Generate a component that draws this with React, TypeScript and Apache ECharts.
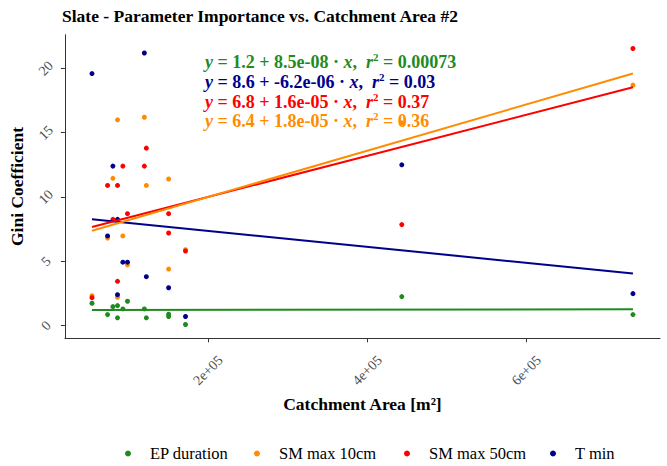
import { useEffect, useRef } from "react";
import * as echarts from "echarts";

// Catchment areas [m²] and the Gini coefficient of each parameter per catchment
const catchmentArea = [54200, 73800, 80500, 86300, 86300, 93000, 98800, 120000, 122500, 150500, 150500, 171700, 443400, 733800];
const epDuration = [1.73, 0.85, 1.47, 1.55, 0.6, 1.29, 1.89, 1.29, 0.6, 0.88, 0.7, 0.08, 2.25, 0.85];
const smMax10 = [2.32, 6.8, 11.45, 16.0, 2.2, 6.97, 4.72, 16.2, 10.9, 11.4, 4.39, 5.9, 15.77, 18.7];
const smMax50 = [2.17, 10.9, 8.26, 10.9, 3.44, 12.4, 8.7, 12.4, 13.8, 8.7, 7.2, 5.8, 7.85, 21.55];
const tMin = [19.6, 6.97, 12.4, 8.26, 2.4, 4.93, 4.93, 21.2, 3.8, 2.94, null, 0.7, 12.5, 2.48];

const seriesNames = ["EP duration", "SM max 10cm", "SM max 50cm", "T min"];
const seriesColors = ["#1f8b1f", "#ff8c00", "#ff0000", "#00008b"];
const seriesValues = [epDuration, smMax10, smMax50, tMin];

// Linear fits (y = a + b·x) in the order they are listed on the plot
const fitSeries = ["EP duration", "T min", "SM max 50cm", "SM max 10cm"];
const fitIntercept = [1.2, 8.6, 6.8, 6.4];
const fitSlope = [8.5e-8, -6.2e-6, 1.6e-5, 1.8e-5];
const fitR2 = ["0.00073", "0.03", "0.37", "0.36"];

const xTickValues = [200000, 400000, 600000];
const yTickValues = [0, 5, 10, 15, 20];

const SERIF = '"Liberation Serif", "Times New Roman", serif';

// R-style scientific notation, e.g. 2e+05, -6.2e-06
function sci(v: number, digits?: number): string {
  const s = digits === undefined ? v.toExponential() : v.toExponential(digits);
  const [m, e] = s.split("e");
  const sign = e[0] === "-" ? "-" : "+";
  const exp = e.replace(/^[+-]/, "").padStart(2, "0");
  return `${m}e${sign}${exp}`;
}

export default function App() {
  const ref = useRef<HTMLDivElement>(null);

  useEffect(() => {
    if (!ref.current) return;
    const chart = echarts.init(ref.current, null, { renderer: "svg" });

    const xMinD = Math.min(...catchmentArea);
    const xMaxD = Math.max(...catchmentArea);
    const allY = seriesValues.flat().filter((v): v is number => v !== null);
    const yMinD = Math.min(...allY);
    const yMaxD = Math.max(...allY);
    const xPad = (xMaxD - xMinD) * 0.05;
    const yPad = (yMaxD - yMinD) * 0.05;

    const scatter = seriesNames.map((name, k) => ({
      name,
      type: "scatter",
      symbol: "circle",
      symbolSize: 5,
      itemStyle: { color: seriesColors[k], opacity: 1 },
      z: 2 + k * 0.01,
      data: catchmentArea
        .map((x, i) => [x, seriesValues[k][i]])
        .filter((p) => p[1] !== null),
    }));

    const fits = fitSeries.map((name, k) => {
      const color = seriesColors[seriesNames.indexOf(name)];
      return {
        name: `${name} fit`,
        type: "line",
        symbol: "none",
        silent: true,
        z: 3,
        lineStyle: { color, width: 2 },
        data: [xMinD, xMaxD].map((x) => [x, fitIntercept[k] + fitSlope[k] * x]),
      };
    });

    const eqTop = [51, 71, 91, 110];
    const equations = fitSeries.map((name, k) => {
      const color = seriesColors[seriesNames.indexOf(name)];
      const base = { fill: color, fontFamily: SERIF, fontSize: 18, fontWeight: "bold", lineHeight: 20, verticalAlign: "bottom" };
      const text =
        `{i|y}{b| = ${fitIntercept[k]} + ${sci(fitSlope[k], 1)} · }{i|x}{b|,  }` +
        `{i|r}{s|2}{b| = ${fitR2[k]}}`;
      return {
        type: "text",
        x: 205,
        y: eqTop[k],
        z: 10,
        style: {
          text,
          fill: color,
          verticalAlign: "top",
          align: "left",
          rich: {
            b: base,
            i: { ...base, fontStyle: "italic" },
            s: { ...base, fontSize: 11, lineHeight: 11, padding: [0, 0, 13, 0], verticalAlign: "top" },
          },
        },
      };
    });

    const legendLeft = [125, 254, 404, 550];
    const legends = seriesNames.map((name, k) => ({
      data: [name],
      left: legendLeft[k],
      top: 445,
      padding: 0,
      icon: "circle",
      itemWidth: 6,
      itemHeight: 6,
      selectedMode: false,
      textStyle: { fontFamily: SERIF, fontSize: 16.5, color: "#000", padding: [0, 0, 0, 14] },
    }));

    chart.setOption({
      animation: false,
      backgroundColor: "#fff",
      title: {
        text: "Slate - Parameter Importance vs. Catchment Area #2",
        left: 62,
        top: 7,
        padding: 0,
        textStyle: { fontFamily: SERIF, fontSize: 17.5, fontWeight: "bold", color: "#000" },
      },
      legend: legends,
      grid: { left: 64, right: 7, top: 34.7, bottom: 127.7, containLabel: false },
      xAxis: {
        type: "value",
        min: xMinD - xPad,
        max: xMaxD + xPad,
        name: "Catchment Area [m²]",
        nameLocation: "middle",
        nameGap: 56,
        nameTextStyle: { fontFamily: SERIF, fontSize: 17.5, fontWeight: "bold", color: "#000" },
        axisLine: { show: true, onZero: false, lineStyle: { color: "#333", width: 1 } },
        axisTick: { show: true, inside: false, length: 4, customValues: xTickValues, lineStyle: { color: "#333" } },
        axisLabel: {
          customValues: xTickValues,
          rotate: 45,
          align: "center",
          verticalAlign: "middle",
          margin: 32,
          fontFamily: SERIF,
          fontSize: 14,
          color: "#4d4d4d",
          formatter: (v: number) => sci(v),
        },
        splitLine: { show: false },
      },
      yAxis: {
        type: "value",
        min: yMinD - yPad,
        max: yMaxD + yPad,
        name: "Gini Coefficient",
        nameLocation: "middle",
        nameGap: 37,
        nameTextStyle: { fontFamily: SERIF, fontSize: 17.5, fontWeight: "bold", color: "#000" },
        axisLine: { show: true, onZero: false, lineStyle: { color: "#333", width: 1 } },
        axisTick: { show: true, inside: false, length: 4, customValues: yTickValues, lineStyle: { color: "#333" } },
        axisLabel: {
          customValues: yTickValues,
          rotate: 45,
          align: "center",
          verticalAlign: "middle",
          margin: 19,
          fontFamily: SERIF,
          fontSize: 14,
          color: "#4d4d4d",
        },
        splitLine: { show: false },
      },
      graphic: equations,
      series: [...scatter, ...fits],
    });

    return () => chart.dispose();
  }, []);

  return (
    <div
      ref={ref}
      style={{ position: "fixed", left: 0, top: 0, width: 667, height: 466, background: "#fff" }}
    />
  );
}
